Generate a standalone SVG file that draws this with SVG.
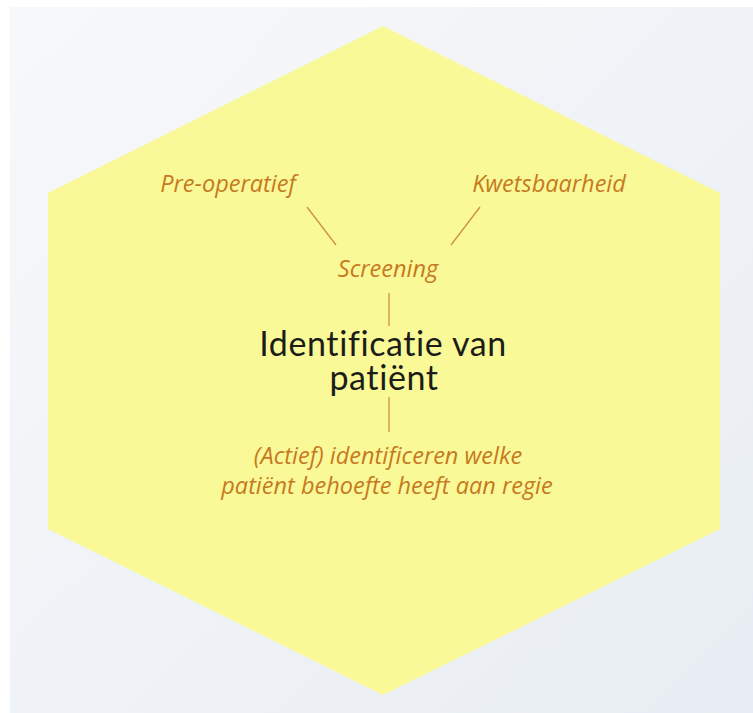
<svg xmlns="http://www.w3.org/2000/svg" width="753" height="713" viewBox="0 0 753 713">
<defs>
<linearGradient id="bg" x1="0" y1="0" x2="1" y2="1">
<stop offset="0" stop-color="#f7f8fa"/>
<stop offset="1" stop-color="#e8edf3"/>
</linearGradient>
</defs>
<style>
.lbl{font-family:"Open Sans","Noto Sans",sans-serif;font-style:italic;font-size:23.5px;fill:#c7791f;text-anchor:middle}
.main{font-family:Lato,"Noto Sans",sans-serif;font-size:34px;letter-spacing:0.6px;fill:#1c1c18;text-anchor:middle}
.conn line{stroke:#cf9040;stroke-width:1.3}
</style>
<rect width="753" height="713" fill="#ffffff"/>
<rect x="10" y="7" width="743" height="706" fill="url(#bg)"/>
<polygon id="hexagon" points="383,26 720,193 720,529 383,695 48,529 48,193" fill="#f9f997"/>
<g class="conn">
<line x1="307" y1="207" x2="336" y2="245"/>
<line x1="480" y1="207" x2="451" y2="245"/>
<line x1="389" y1="293" x2="389" y2="326"/>
<line x1="389" y1="397" x2="389" y2="432"/>
</g>
<g id="pre-operatief"><text class="lbl" x="228" y="192">Pre-operatief</text></g>
<g id="kwetsbaarheid"><text class="lbl" x="549" y="192">Kwetsbaarheid</text></g>
<g id="screening"><text class="lbl" x="388" y="277">Screening</text></g>
<g id="identificatie"><text class="main" x="383" y="356">Identificatie van</text><text class="main" x="384" y="390">patiënt</text></g>
<g id="actief"><text class="lbl" x="388" y="464">(Actief) identificeren welke</text><text class="lbl" x="387" y="494">patiënt behoefte heeft aan regie</text></g>
</svg>
